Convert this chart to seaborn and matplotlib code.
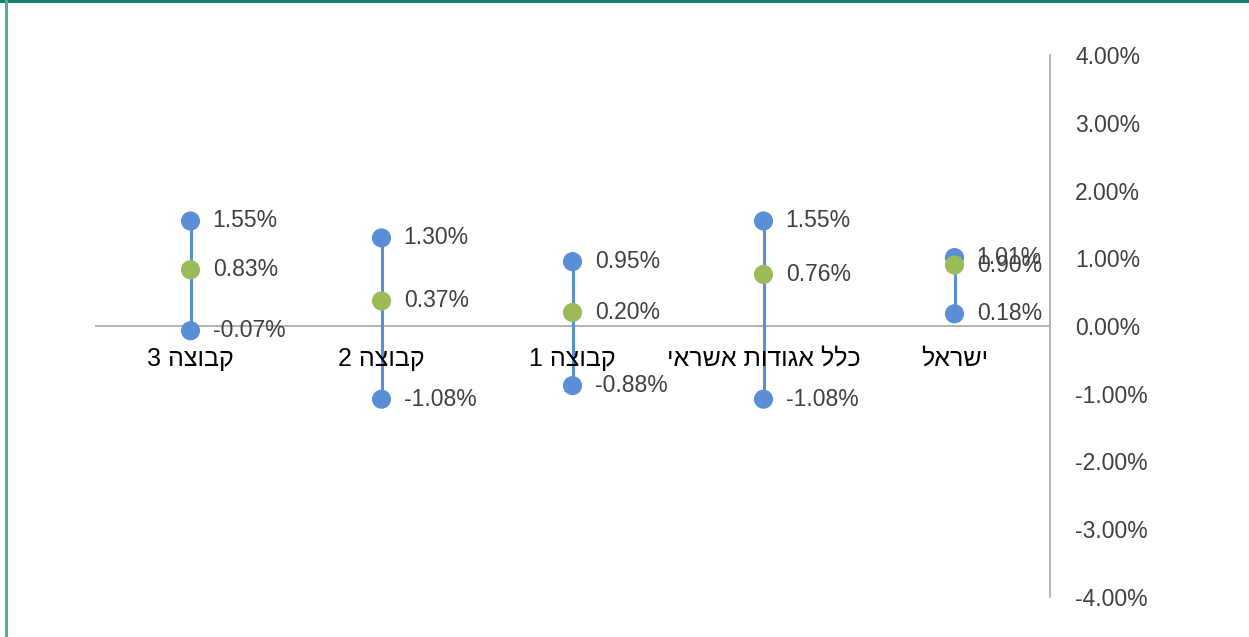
import matplotlib
matplotlib.use("Agg")
import matplotlib.pyplot as plt
from matplotlib.lines import Line2D
import seaborn as sns
import pandas as pd
import numpy as np
import re

# ---- data (logical order; first category is drawn at the right, as in the RTL source) ----
categories = ["ישראל", "כלל אגודות אשראי", "קבוצה 1", "קבוצה 2", "קבוצה 3"]
max_vals = [1.01, 1.55, 0.95, 1.30, 1.55]
mid_vals = [0.90, 0.76, 0.20, 0.37, 0.83]
min_vals = [0.18, -1.08, -0.88, -1.08, -0.07]
y_ticks = [-4, -3, -2, -1, 0, 1, 2, 3, 4]

BLUE = "#5A8FD8"
GREEN = "#9BBB59"
TXT = "#404040"
GRAY = "#A6A6A6"

sns.set_style("white")
plt.rcParams["font.family"] = ["Liberation Sans", "DejaVu Sans"]
FS = 16.5


def visual(s):
    """Reorder a Hebrew (RTL) string for left-to-right rendering."""
    parts = re.findall(r"\d+(?:\.\d+)?|[^\d]", s)
    return "".join(reversed(parts))


x = np.arange(len(categories))
df = pd.DataFrame({
    "x": np.concatenate([x, x, x]),
    "value": max_vals + min_vals + mid_vals,
    "kind": ["max"] * len(x) + ["min"] * len(x) + ["mid"] * len(x),
})

fig = plt.figure(figsize=(12.49, 6.37), dpi=100)
ax = fig.add_axes([95 / 1249, 1 - 597 / 637, (1050 - 95) / 1249, (597 - 55) / 637])

# vertical range lines
ax.vlines(x, min_vals, max_vals, color=BLUE, lw=2.2, zorder=2)
ax.axhline(0, color=GRAY, lw=1.2, zorder=1)

blue_df = df[df["kind"] != "mid"]
green_df = df[df["kind"] == "mid"]
sns.scatterplot(data=blue_df, x="x", y="value", color=BLUE, s=190, edgecolor="none",
                ax=ax, zorder=3, legend=False)
sns.scatterplot(data=green_df, x="x", y="value", color=GREEN, s=190, edgecolor="none",
                ax=ax, zorder=4, legend=False)

# data labels
for xi, v in zip(df["x"], df["value"]):
    ax.annotate(f"{v:.2f}%", (xi, v), xytext=(16, 0), textcoords="offset points",
                ha="left", va="center", fontsize=FS, color=TXT, zorder=5)

# category labels just below the zero line
for xi, c in zip(x, categories):
    ax.annotate(visual(c), (xi, 0), xytext=(0, -15), textcoords="offset points",
                ha="center", va="top", fontsize=FS + 1.5, color="#000000", zorder=5)

ax.set_xlim(len(categories) - 0.5, -0.5)
ax.set_ylim(-4, 4)
ax.set_xticks([])
ax.set_yticks(y_ticks)
ax.set_yticklabels([f"{t:.2f}%" for t in y_ticks])
ax.yaxis.tick_right()
ax.tick_params(axis="y", length=0, pad=18, labelsize=FS, labelcolor=TXT)
ax.set_xlabel("")
ax.set_ylabel("")

for side in ["left", "top", "bottom"]:
    ax.spines[side].set_visible(False)
ax.spines["right"].set_color(GRAY)
ax.spines["right"].set_linewidth(1.2)

# figure frame (top and left edges visible in the source)
fig.add_artist(Line2D([0, 1], [1 - 1 / 637, 1 - 1 / 637], transform=fig.transFigure,
                      color="#14806E", lw=2.2))
fig.add_artist(Line2D([6 / 1249, 6 / 1249], [0, 1], transform=fig.transFigure,
                      color="#52AB98", lw=2.2))

fig.savefig("out.png", dpi=100, facecolor="white")
